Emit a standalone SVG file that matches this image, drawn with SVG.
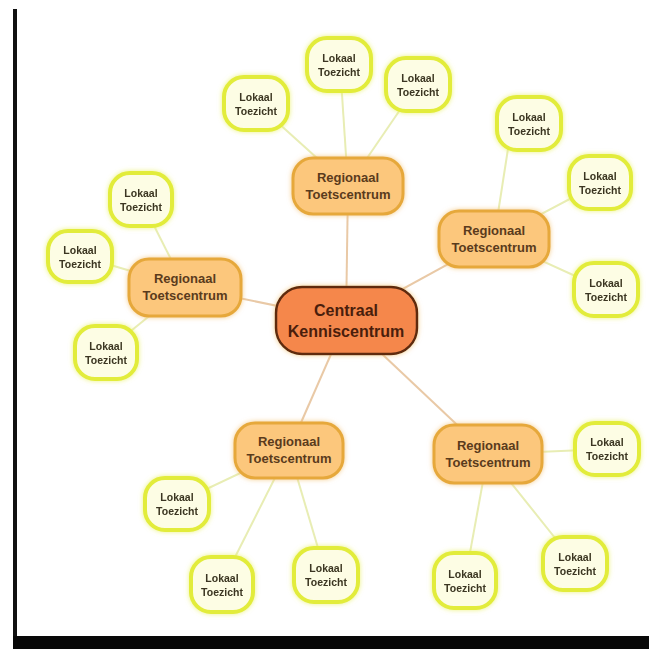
<svg xmlns="http://www.w3.org/2000/svg" width="649" height="649" viewBox="0 0 649 649">
<defs>
<style>
.c1{stroke:#e9c9a6;stroke-width:2;fill:none}
.c2{stroke:#e8edb4;stroke-width:2;fill:none}
.loc rect{fill:#fdfde4;stroke:#e2ec3a;stroke-width:4}
.loc text{font-family:"Liberation Sans",Arial,sans-serif;font-weight:bold;font-size:10.5px;fill:#3a3520;text-anchor:middle}
.reg rect{fill:#fcc77c;stroke:#e6a83a;stroke-width:3}
.reg text{font-family:"Liberation Sans",Arial,sans-serif;font-weight:bold;font-size:13px;fill:#5a3b1c;text-anchor:middle}
.cen rect{fill:#f5874c;stroke:#5e2a10;stroke-width:2.5}
.cen text{font-family:"Liberation Sans",Arial,sans-serif;font-weight:bold;font-size:16px;fill:#4a1e0c;text-anchor:middle}
</style>
<filter id="gl" x="-30%" y="-30%" width="160%" height="160%">
<feGaussianBlur in="SourceAlpha" stdDeviation="2.5" result="b"/>
<feFlood flood-color="#e8f060" flood-opacity="0.8"/>
<feComposite in2="b" operator="in" result="g"/>
<feMerge><feMergeNode in="g"/><feMergeNode in="SourceGraphic"/></feMerge>
</filter>
<filter id="go" x="-30%" y="-30%" width="160%" height="160%">
<feGaussianBlur in="SourceAlpha" stdDeviation="2.5" result="b"/>
<feFlood flood-color="#f2c070" flood-opacity="0.8"/>
<feComposite in2="b" operator="in" result="g"/>
<feMerge><feMergeNode in="g"/><feMergeNode in="SourceGraphic"/></feMerge>
</filter>
</defs>
<rect width="649" height="649" fill="#ffffff"/>
<rect x="13" y="9" width="4" height="630" fill="#111"/>
<rect x="13" y="636" width="636" height="13" fill="#080808"/>

<g id="connectors">
<line class="c1" x1="346" y1="320" x2="348" y2="186"/>
<line class="c1" x1="346" y1="320" x2="494" y2="239"/>
<line class="c1" x1="346" y1="320" x2="185" y2="287"/>
<line class="c1" x1="346" y1="320" x2="289" y2="450"/>
<line class="c1" x1="346" y1="320" x2="488" y2="454" stroke="#d9c0a4"/>
<line class="c2" x1="348" y1="186" x2="256" y2="103"/>
<line class="c2" x1="348" y1="186" x2="340" y2="64"/>
<line class="c2" x1="348" y1="186" x2="417" y2="85"/>
<line class="c2" x1="494" y1="239" x2="512" y2="123"/>
<line class="c2" x1="494" y1="239" x2="600" y2="183"/>
<line class="c2" x1="494" y1="239" x2="606" y2="290"/>
<line class="c2" x1="185" y1="287" x2="141" y2="200"/>
<line class="c2" x1="185" y1="287" x2="80" y2="256"/>
<line class="c2" x1="185" y1="287" x2="105" y2="352"/>
<line class="c2" x1="289" y1="450" x2="177" y2="503"/>
<line class="c2" x1="289" y1="450" x2="222" y2="583"/>
<line class="c2" x1="289" y1="450" x2="326" y2="575"/>
<line class="c2" x1="488" y1="454" x2="608" y2="449"/>
<line class="c2" x1="488" y1="454" x2="575" y2="563"/>
<line class="c2" x1="488" y1="454" x2="465" y2="580"/>
</g>

<g id="central" class="cen">
<rect x="276" y="287" width="141" height="67" rx="26" filter="url(#go)"/>
<text x="346" y="316">Centraal</text>
<text x="346" y="337">Kenniscentrum</text>
</g>

<g id="reg-top" class="reg"><rect x="293" y="158" width="110" height="56" rx="20" filter="url(#go)"/><text x="348" y="182">Regionaal</text><text x="348" y="199">Toetscentrum</text></g>
<g id="reg-right" class="reg"><rect x="439" y="211" width="110" height="56" rx="20" filter="url(#go)"/><text x="494" y="235">Regionaal</text><text x="494" y="252">Toetscentrum</text></g>
<g id="reg-left" class="reg"><rect x="129" y="259" width="112" height="57" rx="20" filter="url(#go)"/><text x="185" y="283">Regionaal</text><text x="185" y="300">Toetscentrum</text></g>
<g id="reg-bl" class="reg"><rect x="235" y="423" width="108" height="55" rx="20" filter="url(#go)"/><text x="289" y="446">Regionaal</text><text x="289" y="463">Toetscentrum</text></g>
<g id="reg-br" class="reg"><rect x="434" y="425" width="108" height="58" rx="20" filter="url(#go)"/><text x="488" y="450">Regionaal</text><text x="488" y="467">Toetscentrum</text></g>

<g id="loc-t1" class="loc" filter="url(#gl)"><rect x="224" y="77" width="64" height="53" rx="20"/><text x="256" y="101">Lokaal</text><text x="256" y="115">Toezicht</text></g>
<g id="loc-t2" class="loc" filter="url(#gl)"><rect x="307" y="38" width="64" height="53" rx="20"/><text x="339" y="62">Lokaal</text><text x="339" y="76">Toezicht</text></g>
<g id="loc-t3" class="loc" filter="url(#gl)"><rect x="386" y="58" width="64" height="53" rx="20"/><text x="418" y="82">Lokaal</text><text x="418" y="96">Toezicht</text></g>
<g id="loc-r1" class="loc" filter="url(#gl)"><rect x="497" y="97" width="64" height="53" rx="20"/><text x="529" y="121">Lokaal</text><text x="529" y="135">Toezicht</text></g>
<g id="loc-r2" class="loc" filter="url(#gl)"><rect x="569" y="156" width="62" height="53" rx="20"/><text x="600" y="180">Lokaal</text><text x="600" y="194">Toezicht</text></g>
<g id="loc-r3" class="loc" filter="url(#gl)"><rect x="574" y="263" width="64" height="53" rx="20"/><text x="606" y="287">Lokaal</text><text x="606" y="301">Toezicht</text></g>
<g id="loc-l1" class="loc" filter="url(#gl)"><rect x="110" y="173" width="62" height="53" rx="20"/><text x="141" y="197">Lokaal</text><text x="141" y="211">Toezicht</text></g>
<g id="loc-l2" class="loc" filter="url(#gl)"><rect x="48" y="231" width="64" height="51" rx="20"/><text x="80" y="254">Lokaal</text><text x="80" y="268">Toezicht</text></g>
<g id="loc-l3" class="loc" filter="url(#gl)"><rect x="75" y="326" width="62" height="53" rx="20"/><text x="106" y="350">Lokaal</text><text x="106" y="364">Toezicht</text></g>
<g id="loc-bl1" class="loc" filter="url(#gl)"><rect x="145" y="478" width="64" height="52" rx="20"/><text x="177" y="501">Lokaal</text><text x="177" y="515">Toezicht</text></g>
<g id="loc-bl2" class="loc" filter="url(#gl)"><rect x="191" y="557" width="62" height="55" rx="20"/><text x="222" y="582">Lokaal</text><text x="222" y="596">Toezicht</text></g>
<g id="loc-bl3" class="loc" filter="url(#gl)"><rect x="294" y="548" width="64" height="54" rx="20"/><text x="326" y="572">Lokaal</text><text x="326" y="586">Toezicht</text></g>
<g id="loc-br1" class="loc" filter="url(#gl)"><rect x="575" y="423" width="64" height="52" rx="20"/><text x="607" y="446">Lokaal</text><text x="607" y="460">Toezicht</text></g>
<g id="loc-br2" class="loc" filter="url(#gl)"><rect x="543" y="537" width="64" height="53" rx="20"/><text x="575" y="561">Lokaal</text><text x="575" y="575">Toezicht</text></g>
<g id="loc-br3" class="loc" filter="url(#gl)"><rect x="434" y="553" width="62" height="55" rx="20"/><text x="465" y="578">Lokaal</text><text x="465" y="592">Toezicht</text></g>
</svg>
